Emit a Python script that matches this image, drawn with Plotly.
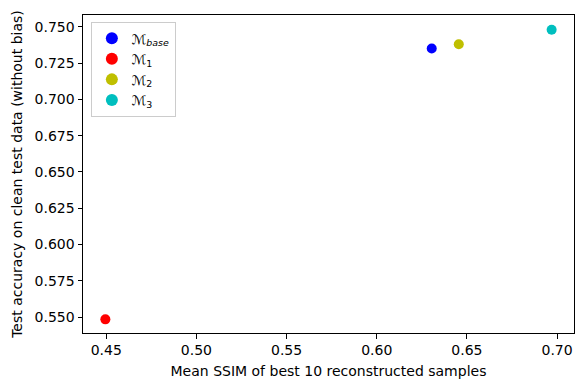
import plotly.graph_objects as go

names = ["ℳ<sub><i>base</i></sub>", "ℳ<sub>1</sub>", "ℳ<sub>2</sub>", "ℳ<sub>3</sub>"]
ssim = [0.6305, 0.4495, 0.6455, 0.697]
acc = [0.735, 0.5485, 0.738, 0.748]
colors = ["#0000ff", "#ff0000", "#bfbf00", "#00bfbf"]

fig = go.Figure()
for n, x, y, c in zip(names, ssim, acc, colors):
    fig.add_trace(go.Scatter(x=[x], y=[y], mode="markers", name=n,
                             marker=dict(color=c, size=10, line=dict(width=0))))

font = dict(family="DejaVu Sans", size=14, color="black")
axis_common = dict(showline=True, linecolor="black", linewidth=1, mirror=True,
                   ticks="outside", ticklen=4.5, tickwidth=1, tickcolor="black",
                   showgrid=False, zeroline=False, tickfont=font, automargin=False)
fig.update_xaxes(range=[0.4371, 0.7094], tickmode="array",
                 tickvals=[0.45, 0.50, 0.55, 0.60, 0.65, 0.70], tickformat=".2f",
                 title=dict(text="Mean SSIM of best 10 reconstructed samples", font=font, standoff=8),
                 **axis_common)
fig.update_yaxes(range=[0.5391, 0.7581], tickmode="array",
                 tickvals=[0.55, 0.575, 0.60, 0.625, 0.65, 0.675, 0.70, 0.725, 0.75], tickformat=".3f",
                 title=dict(text="Test accuracy on clean test data (without bias)", font=font, standoff=8),
                 **axis_common)
fig.update_layout(width=576, height=381, margin=dict(l=83, r=2, t=15, b=48),
                  plot_bgcolor="white", paper_bgcolor="white", font=font,
                  legend=dict(x=0.016, y=0.978, xanchor="left", yanchor="top",
                              bordercolor="#cccccc", borderwidth=1, bgcolor="white",
                              font=dict(family="DejaVu Sans", size=13.5, color="black"),
                              itemsizing="constant", tracegroupgap=0),
                  showlegend=True)
fig.write_html("out.html", config={"displayModeBar": False},
               post_script="document.body.style.margin='0';document.body.style.overflow='hidden';")
